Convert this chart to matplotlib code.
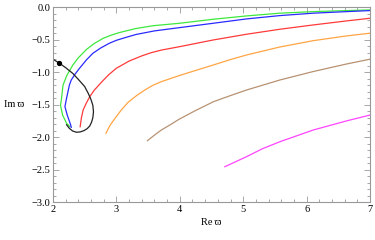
import numpy as np
import matplotlib
matplotlib.use('Agg')
import matplotlib.pyplot as plt
from matplotlib.ticker import MultipleLocator

# curves (Re w, Im w)
green_x = [2.27, 2.216, 2.153, 2.12, 2.137, 2.16, 2.22, 2.315, 2.40, 2.53, 2.65, 2.79, 2.92, 3.05, 3.3, 3.58, 4.0, 4.53, 5.055, 5.58, 6.105, 6.63, 7.0]
green_y = [-1.84, -1.787, -1.66, -1.51, -1.40, -1.20, -1.05, -0.89, -0.78, -0.65, -0.56, -0.48, -0.43, -0.39, -0.33, -0.285, -0.247, -0.185, -0.134, -0.092, -0.068, -0.052, -0.042]

blue_x = [2.29, 2.28, 2.226, 2.19, 2.216, 2.26, 2.29, 2.35, 2.42, 2.53, 2.63, 2.75, 2.89, 3.0, 3.15, 3.31, 3.6, 4.0, 4.53, 5.055, 5.58, 6.105, 6.63, 7.0]
blue_y = [-1.85, -1.81, -1.66, -1.53, -1.40, -1.20, -1.12, -1.03, -0.94, -0.81, -0.71, -0.63, -0.555, -0.51, -0.465, -0.42, -0.365, -0.314, -0.247, -0.180, -0.129, -0.092, -0.068, -0.052]

red_x = [2.43, 2.45, 2.478, 2.53, 2.58, 2.65, 2.77, 2.88, 3.0, 3.2, 3.4, 3.55, 3.71, 4.0, 4.53, 5.055, 5.58, 6.105, 6.63, 7.0]
red_y = [-1.84, -1.70, -1.58, -1.47, -1.38, -1.28, -1.15, -1.04, -0.94, -0.83, -0.75, -0.70, -0.66, -0.607, -0.504, -0.416, -0.339, -0.273, -0.211, -0.170]

orange_x = [2.836, 2.9, 2.98, 3.08, 3.19, 3.32, 3.45, 3.58, 3.71, 4.0, 4.23, 4.53, 4.82, 5.055, 5.58, 6.105, 6.63, 7.0]
orange_y = [-1.94, -1.82, -1.71, -1.58, -1.46, -1.36, -1.274, -1.20, -1.146, -1.05, -0.98, -0.889, -0.80, -0.735, -0.612, -0.515, -0.442, -0.40]

brown_x = [3.49, 3.6, 3.71, 3.85, 3.98, 4.23, 4.53, 4.8, 5.055, 5.58, 6.105, 6.63, 7.0]
brown_y = [-2.055, -1.97, -1.89, -1.81, -1.73, -1.60, -1.455, -1.36, -1.274, -1.12, -0.99, -0.874, -0.80]

magenta_x = [4.71, 5.055, 5.3, 5.58, 6.105, 6.63, 7.0]
magenta_y = [-2.456, -2.30, -2.18, -2.07, -1.89, -1.75, -1.66]

black_x = [1.95, 2.0, 2.10, 2.2, 2.315, 2.40, 2.50, 2.557, 2.60, 2.63, 2.64, 2.63, 2.61, 2.58, 2.54, 2.49, 2.43, 2.37, 2.31, 2.26, 2.216]
black_y = [-0.77, -0.80, -0.86, -0.93, -1.02, -1.11, -1.22, -1.325, -1.42, -1.51, -1.61, -1.70, -1.77, -1.83, -1.87, -1.90, -1.92, -1.925, -1.905, -1.865, -1.81]
dot_x, dot_y = 2.10, -0.86

serif = ['Liberation Serif', 'DejaVu Serif']
plt.rcParams['font.family'] = serif

fig = plt.figure(figsize=(3.75, 2.4), dpi=100)
ax = fig.add_axes([0.141, 0.158, 0.846, 0.812])

lw = 0.9
ax.plot(green_x, green_y, color='#3ee83e', lw=lw)
ax.plot(blue_x, blue_y, color='#2a2aff', lw=lw)
ax.plot(red_x, red_y, color='#ff3a3a', lw=lw)
ax.plot(orange_x, orange_y, color='#ffa544', lw=lw)
ax.plot(brown_x, brown_y, color='#b89272', lw=lw)
ax.plot(magenta_x, magenta_y, color='#ff44ff', lw=lw)
ax.plot(black_x, black_y, color='#222222', lw=lw)
ax.plot(dot_x, dot_y, 'o', color='black', ms=2.8)

ax.set_xlim(2, 7)
ax.set_ylim(-3.0, 0.0)
ax.xaxis.set_major_locator(MultipleLocator(1))
ax.xaxis.set_minor_locator(MultipleLocator(0.2))
ax.yaxis.set_major_locator(MultipleLocator(0.5))
ax.yaxis.set_minor_locator(MultipleLocator(0.1))
ax.yaxis.set_major_formatter(plt.FuncFormatter(lambda v, p: f'{v:.1f}'.replace('-', '\u2212')))

for s in ax.spines.values():
    s.set_color('#999999')
    s.set_linewidth(0.8)
ax.tick_params(which='both', direction='in', top=True, right=True, color='#999999', width=0.6,
               labelsize=7.5, pad=2)
ax.tick_params(which='major', length=4)
ax.tick_params(which='minor', length=2)

ax.set_xlabel('Re\u2009\u03d6', fontsize=7.5, labelpad=3)
ax.set_ylabel('Im\u2009\u03d6', fontsize=7.5, rotation=0, ha='right', va='center')
ax.yaxis.set_label_coords(-0.09, 0.5)

fig.savefig('out.png', dpi=100)
